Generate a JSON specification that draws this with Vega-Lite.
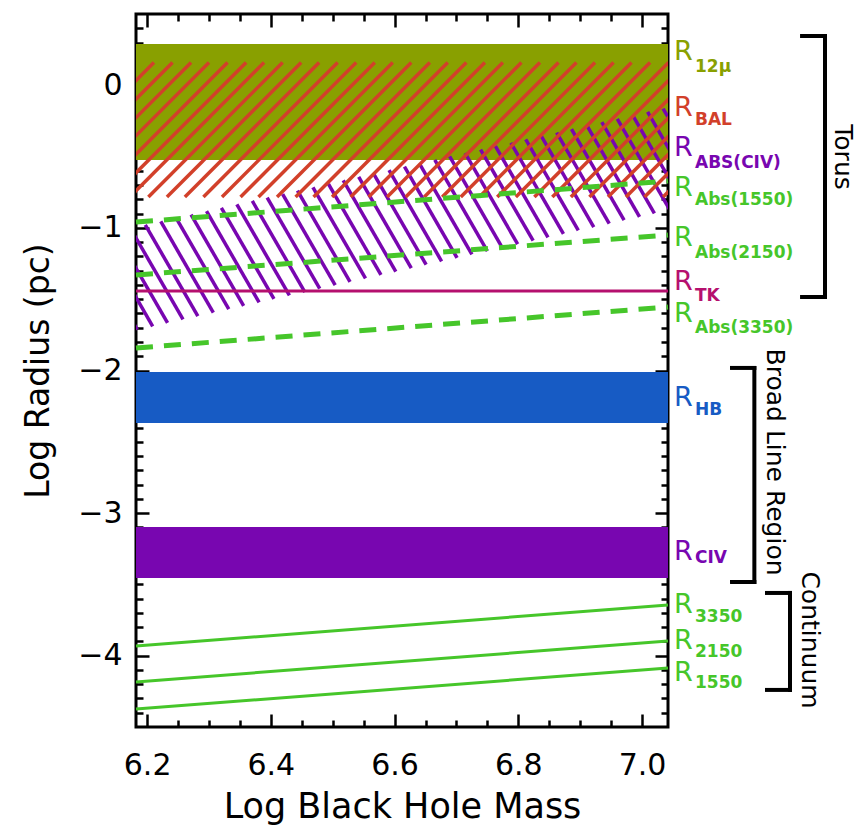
{
  "$schema": "https://vega.github.io/schema/vega-lite/v6.json",
  "width": 532,
  "height": 713,
  "autosize": "none",
  "padding": {"left": 136, "top": 14, "right": 191, "bottom": 105},
  "background": "white",
  "config": {
    "view": {"stroke": "black", "strokeWidth": 3},
    "axis": {"domain": false, "grid": false, "tickColor": "black", "tickWidth": 2.5, "labelFont": "DejaVu Sans", "labelFontSize": 30, "labelColor": "black", "titleFont": "DejaVu Sans", "titleFontSize": 33, "titleFontWeight": "normal", "titleColor": "black"}
  },
  "datasets": {
    "bands": [
      {"s": "12μ", "lo": -0.524, "hi": 0.29},
      {"s": "HB", "lo": -2.368, "hi": -2.011},
      {"s": "CIV", "lo": -3.455, "hi": -3.097}
    ],
    "hatch": [
      {"s": "BAL", "x": 5.994, "y": -0.783, "x2": 6.211, "y2": 0.16},
      {"s": "BAL", "x": 6.024, "y": -0.783, "x2": 6.241, "y2": 0.16},
      {"s": "BAL", "x": 6.054, "y": -0.783, "x2": 6.271, "y2": 0.16},
      {"s": "BAL", "x": 6.083, "y": -0.783, "x2": 6.300, "y2": 0.16},
      {"s": "BAL", "x": 6.113, "y": -0.783, "x2": 6.330, "y2": 0.16},
      {"s": "BAL", "x": 6.143, "y": -0.783, "x2": 6.360, "y2": 0.16},
      {"s": "BAL", "x": 6.172, "y": -0.783, "x2": 6.389, "y2": 0.16},
      {"s": "BAL", "x": 6.202, "y": -0.783, "x2": 6.419, "y2": 0.16},
      {"s": "BAL", "x": 6.232, "y": -0.783, "x2": 6.449, "y2": 0.16},
      {"s": "BAL", "x": 6.261, "y": -0.783, "x2": 6.478, "y2": 0.16},
      {"s": "BAL", "x": 6.291, "y": -0.783, "x2": 6.508, "y2": 0.16},
      {"s": "BAL", "x": 6.321, "y": -0.783, "x2": 6.538, "y2": 0.16},
      {"s": "BAL", "x": 6.351, "y": -0.783, "x2": 6.568, "y2": 0.16},
      {"s": "BAL", "x": 6.380, "y": -0.783, "x2": 6.597, "y2": 0.16},
      {"s": "BAL", "x": 6.410, "y": -0.783, "x2": 6.627, "y2": 0.16},
      {"s": "BAL", "x": 6.440, "y": -0.783, "x2": 6.657, "y2": 0.16},
      {"s": "BAL", "x": 6.469, "y": -0.783, "x2": 6.686, "y2": 0.16},
      {"s": "BAL", "x": 6.499, "y": -0.783, "x2": 6.716, "y2": 0.16},
      {"s": "BAL", "x": 6.529, "y": -0.783, "x2": 6.746, "y2": 0.16},
      {"s": "BAL", "x": 6.558, "y": -0.783, "x2": 6.775, "y2": 0.16},
      {"s": "BAL", "x": 6.588, "y": -0.783, "x2": 6.805, "y2": 0.16},
      {"s": "BAL", "x": 6.618, "y": -0.783, "x2": 6.835, "y2": 0.16},
      {"s": "BAL", "x": 6.648, "y": -0.783, "x2": 6.865, "y2": 0.16},
      {"s": "BAL", "x": 6.677, "y": -0.783, "x2": 6.894, "y2": 0.16},
      {"s": "BAL", "x": 6.707, "y": -0.783, "x2": 6.924, "y2": 0.16},
      {"s": "BAL", "x": 6.737, "y": -0.783, "x2": 6.954, "y2": 0.16},
      {"s": "BAL", "x": 6.766, "y": -0.783, "x2": 6.983, "y2": 0.16},
      {"s": "BAL", "x": 6.796, "y": -0.783, "x2": 7.013, "y2": 0.16},
      {"s": "BAL", "x": 6.826, "y": -0.783, "x2": 7.043, "y2": 0.16},
      {"s": "BAL", "x": 6.855, "y": -0.783, "x2": 7.072, "y2": 0.16},
      {"s": "BAL", "x": 6.885, "y": -0.783, "x2": 7.102, "y2": 0.16},
      {"s": "BAL", "x": 6.915, "y": -0.783, "x2": 7.132, "y2": 0.16},
      {"s": "BAL", "x": 6.945, "y": -0.783, "x2": 7.162, "y2": 0.16},
      {"s": "BAL", "x": 6.974, "y": -0.783, "x2": 7.191, "y2": 0.16},
      {"s": "BAL", "x": 7.004, "y": -0.783, "x2": 7.221, "y2": 0.16},
      {"s": "BAL", "x": 7.034, "y": -0.783, "x2": 7.251, "y2": 0.16},
      {"s": "ABS(CIV)", "x": 6.099, "y": -1.075, "x2": 6.184, "y2": -1.714},
      {"s": "ABS(CIV)", "x": 6.124, "y": -1.051, "x2": 6.209, "y2": -1.690},
      {"s": "ABS(CIV)", "x": 6.148, "y": -1.027, "x2": 6.233, "y2": -1.666},
      {"s": "ABS(CIV)", "x": 6.173, "y": -1.003, "x2": 6.258, "y2": -1.642},
      {"s": "ABS(CIV)", "x": 6.197, "y": -0.979, "x2": 6.282, "y2": -1.618},
      {"s": "ABS(CIV)", "x": 6.222, "y": -0.955, "x2": 6.307, "y2": -1.594},
      {"s": "ABS(CIV)", "x": 6.247, "y": -0.931, "x2": 6.332, "y2": -1.570},
      {"s": "ABS(CIV)", "x": 6.271, "y": -0.907, "x2": 6.356, "y2": -1.546},
      {"s": "ABS(CIV)", "x": 6.296, "y": -0.883, "x2": 6.381, "y2": -1.522},
      {"s": "ABS(CIV)", "x": 6.320, "y": -0.859, "x2": 6.405, "y2": -1.498},
      {"s": "ABS(CIV)", "x": 6.345, "y": -0.835, "x2": 6.430, "y2": -1.474},
      {"s": "ABS(CIV)", "x": 6.370, "y": -0.811, "x2": 6.455, "y2": -1.450},
      {"s": "ABS(CIV)", "x": 6.394, "y": -0.787, "x2": 6.479, "y2": -1.426},
      {"s": "ABS(CIV)", "x": 6.419, "y": -0.763, "x2": 6.504, "y2": -1.402},
      {"s": "ABS(CIV)", "x": 6.443, "y": -0.739, "x2": 6.528, "y2": -1.378},
      {"s": "ABS(CIV)", "x": 6.468, "y": -0.715, "x2": 6.553, "y2": -1.354},
      {"s": "ABS(CIV)", "x": 6.493, "y": -0.691, "x2": 6.578, "y2": -1.330},
      {"s": "ABS(CIV)", "x": 6.517, "y": -0.667, "x2": 6.602, "y2": -1.306},
      {"s": "ABS(CIV)", "x": 6.542, "y": -0.643, "x2": 6.627, "y2": -1.282},
      {"s": "ABS(CIV)", "x": 6.566, "y": -0.619, "x2": 6.651, "y2": -1.258},
      {"s": "ABS(CIV)", "x": 6.591, "y": -0.595, "x2": 6.676, "y2": -1.234},
      {"s": "ABS(CIV)", "x": 6.616, "y": -0.571, "x2": 6.701, "y2": -1.210},
      {"s": "ABS(CIV)", "x": 6.640, "y": -0.547, "x2": 6.725, "y2": -1.186},
      {"s": "ABS(CIV)", "x": 6.665, "y": -0.523, "x2": 6.750, "y2": -1.162},
      {"s": "ABS(CIV)", "x": 6.689, "y": -0.499, "x2": 6.774, "y2": -1.138},
      {"s": "ABS(CIV)", "x": 6.714, "y": -0.475, "x2": 6.799, "y2": -1.114},
      {"s": "ABS(CIV)", "x": 6.739, "y": -0.451, "x2": 6.824, "y2": -1.090},
      {"s": "ABS(CIV)", "x": 6.763, "y": -0.427, "x2": 6.848, "y2": -1.066},
      {"s": "ABS(CIV)", "x": 6.788, "y": -0.403, "x2": 6.873, "y2": -1.042},
      {"s": "ABS(CIV)", "x": 6.812, "y": -0.379, "x2": 6.897, "y2": -1.018},
      {"s": "ABS(CIV)", "x": 6.837, "y": -0.355, "x2": 6.922, "y2": -0.994},
      {"s": "ABS(CIV)", "x": 6.862, "y": -0.331, "x2": 6.947, "y2": -0.970},
      {"s": "ABS(CIV)", "x": 6.886, "y": -0.307, "x2": 6.971, "y2": -0.946},
      {"s": "ABS(CIV)", "x": 6.911, "y": -0.283, "x2": 6.996, "y2": -0.922},
      {"s": "ABS(CIV)", "x": 6.935, "y": -0.259, "x2": 7.020, "y2": -0.898},
      {"s": "ABS(CIV)", "x": 6.960, "y": -0.235, "x2": 7.045, "y2": -0.874},
      {"s": "ABS(CIV)", "x": 6.985, "y": -0.211, "x2": 7.070, "y2": -0.850},
      {"s": "ABS(CIV)", "x": 7.009, "y": -0.187, "x2": 7.094, "y2": -0.826},
      {"s": "ABS(CIV)", "x": 7.034, "y": -0.163, "x2": 7.119, "y2": -0.802}
    ],
    "lines": [
      {"s": "Abs(1550)", "k": "dash", "x": 6.182, "y": -0.959}, {"s": "Abs(1550)", "k": "dash", "x": 7.042, "y": -0.671},
      {"s": "Abs(2150)", "k": "dash", "x": 6.182, "y": -1.330}, {"s": "Abs(2150)", "k": "dash", "x": 7.042, "y": -1.050},
      {"s": "Abs(3350)", "k": "dash", "x": 6.182, "y": -1.842}, {"s": "Abs(3350)", "k": "dash", "x": 7.042, "y": -1.555},
      {"s": "TK", "k": "solid", "x": 6.182, "y": -1.442}, {"s": "TK", "k": "solid", "x": 7.042, "y": -1.442},
      {"s": "3350", "k": "solid", "x": 6.182, "y": -3.932}, {"s": "3350", "k": "solid", "x": 7.042, "y": -3.644},
      {"s": "2150", "k": "solid", "x": 6.182, "y": -4.184}, {"s": "2150", "k": "solid", "x": 7.042, "y": -3.897},
      {"s": "1550", "k": "solid", "x": 6.182, "y": -4.374}, {"s": "1550", "k": "solid", "x": 7.042, "y": -4.086}
    ],
    "labels": [
      {"s": "12μ", "ry": 0.2335, "sy": 0.128},
      {"s": "BAL", "ry": -0.159, "sy": -0.243},
      {"s": "ABS(CIV)", "ry": -0.44, "sy": -0.545},
      {"s": "Abs(1550)", "ry": -0.72, "sy": -0.804},
      {"s": "Abs(2150)", "ry": -1.071, "sy": -1.176},
      {"s": "TK", "ry": -1.38, "sy": -1.48},
      {"s": "Abs(3350)", "ry": -1.605, "sy": -1.705},
      {"s": "HB", "ry": -2.193, "sy": -2.277},
      {"s": "CIV", "ry": -3.273, "sy": -3.315},
      {"s": "3350", "ry": -3.644, "sy": -3.729},
      {"s": "2150", "ry": -3.9, "sy": -3.975},
      {"s": "1550", "ry": -4.12, "sy": -4.19}
    ],
    "brackets": [
      {"x": 7.2587, "y": 0.3457, "x2": 7.2958, "y2": 0.3457},
      {"x": 7.2958, "y": 0.3457, "x2": 7.2958, "y2": -1.4846},
      {"x": 7.2587, "y": -1.4846, "x2": 7.2958, "y2": -1.4846},
      {"x": 7.1455, "y": -1.982, "x2": 7.1816, "y2": -1.982},
      {"x": 7.1816, "y": -1.982, "x2": 7.1816, "y2": -3.483},
      {"x": 7.1455, "y": -3.483, "x2": 7.1816, "y2": -3.483},
      {"x": 7.202, "y": -3.56, "x2": 7.2392, "y2": -3.56},
      {"x": 7.2392, "y": -3.56, "x2": 7.2392, "y2": -4.24},
      {"x": 7.202, "y": -4.24, "x2": 7.2392, "y2": -4.24}
    ],
    "groups": [
      {"t": "Torus", "x": 7.325, "y": -0.503},
      {"t": "Broad Line Region", "x": 7.2143, "y": -2.642},
      {"t": "Continuum", "x": 7.2716, "y": -3.89}
    ]
  },
  "resolve": {"axis": {"x": "independent", "y": "independent"}},
  "layer": [
    {
      "data": {"name": "bands"},
      "mark": {"type": "rect"},
      "encoding": {
        "x": {"datum": 6.182, "type": "quantitative", "scale": {"domain": [6.182, 7.042], "nice": false, "zero": false}, "axis": null},
        "x2": {"datum": 7.042},
        "y": {"field": "lo", "type": "quantitative", "scale": {"domain": [-4.5, 0.5], "nice": false, "zero": false},
              "axis": {"orient": "left", "values": [-4, -3, -2, -1, 0], "format": "d", "tickSize": -13, "labelPadding": 27, "title": "Log Radius (pc)", "titlePadding": 22}},
        "y2": {"field": "hi"},
        "color": {"field": "s", "type": "nominal", "legend": null,
                  "scale": {"domain": ["12μ", "BAL", "ABS(CIV)", "Abs(1550)", "Abs(2150)", "TK", "Abs(3350)", "HB", "CIV", "3350", "2150", "1550"],
                            "range": ["#89a000", "#d2402a", "#7806b0", "#46c62a", "#46c62a", "#b5106e", "#46c62a", "#175bc4", "#7806b0", "#46c62a", "#46c62a", "#46c62a"]}}
      }
    },
    {
      "data": {"name": "hatch"},
      "transform": [{"filter": "datum.s === 'ABS(CIV)'"}],
      "mark": {"type": "rule", "clip": true, "strokeWidth": 3.5},
      "encoding": {
        "x": {"field": "x", "type": "quantitative", "scale": {"domain": [6.182, 7.042], "nice": false, "zero": false},
              "axis": {"orient": "bottom", "values": [6.2, 6.4, 6.6, 6.8, 7.0], "format": ".1f", "tickSize": -13, "labelPadding": 36, "title": "Log Black Hole Mass", "titleFontSize": 35, "titlePadding": 9}},
        "x2": {"field": "x2"},
        "y": {"field": "y", "type": "quantitative", "scale": {"domain": [-4.5, 0.5], "nice": false, "zero": false},
              "axis": {"orient": "left", "values": [-4.4, -4.3, -4.2, -4.1, -3.9, -3.8, -3.7, -3.6, -3.5, -3.4, -3.3, -3.2, -3.1, -2.9, -2.8, -2.7, -2.6, -2.5, -2.4, -2.3, -2.2, -2.1, -1.9, -1.8, -1.7, -1.6, -1.5, -1.4, -1.3, -1.2, -1.1, -0.9, -0.8, -0.7, -0.6, -0.5, -0.4, -0.3, -0.2, -0.1, 0.1, 0.2, 0.3, 0.4], "labels": false, "tickSize": -7, "title": null}},
        "y2": {"field": "y2"},
        "color": {"field": "s", "type": "nominal", "legend": null}
      }
    },
    {
      "data": {"name": "hatch"},
      "transform": [{"filter": "datum.s === 'BAL'"}],
      "mark": {"type": "rule", "clip": true, "strokeWidth": 3.5},
      "encoding": {
        "x": {"field": "x", "type": "quantitative", "scale": {"domain": [6.182, 7.042], "nice": false, "zero": false},
              "axis": {"orient": "bottom", "values": [6.25, 6.3, 6.35, 6.45, 6.5, 6.55, 6.65, 6.7, 6.75, 6.85, 6.9, 6.95], "labels": false, "tickSize": -7, "title": null}},
        "x2": {"field": "x2"},
        "y": {"field": "y", "type": "quantitative", "scale": {"domain": [-4.5, 0.5], "nice": false, "zero": false},
              "axis": {"orient": "right", "values": [-4, -3, -2, -1, 0], "labels": false, "tickSize": -13, "title": null}},
        "y2": {"field": "y2"},
        "color": {"field": "s", "type": "nominal", "legend": null}
      }
    },
    {
      "data": {"name": "lines"},
      "transform": [{"filter": "datum.k === 'dash'"}],
      "mark": {"type": "line", "strokeWidth": 5, "strokeDash": [17, 11]},
      "encoding": {
        "x": {"field": "x", "type": "quantitative", "scale": {"domain": [6.182, 7.042], "nice": false, "zero": false},
              "axis": {"orient": "top", "values": [6.2, 6.4, 6.6, 6.8, 7.0], "labels": false, "tickSize": -13, "title": null}},
        "y": {"field": "y", "type": "quantitative", "scale": {"domain": [-4.5, 0.5], "nice": false, "zero": false},
              "axis": {"orient": "right", "values": [-4.4, -4.3, -4.2, -4.1, -3.9, -3.8, -3.7, -3.6, -3.5, -3.4, -3.3, -3.2, -3.1, -2.9, -2.8, -2.7, -2.6, -2.5, -2.4, -2.3, -2.2, -2.1, -1.9, -1.8, -1.7, -1.6, -1.5, -1.4, -1.3, -1.2, -1.1, -0.9, -0.8, -0.7, -0.6, -0.5, -0.4, -0.3, -0.2, -0.1, 0.1, 0.2, 0.3, 0.4], "labels": false, "tickSize": -7, "title": null}},
        "color": {"field": "s", "type": "nominal", "legend": null}
      }
    },
    {
      "data": {"name": "lines"},
      "transform": [{"filter": "datum.k === 'solid'"}],
      "mark": {"type": "line", "strokeWidth": 3},
      "encoding": {
        "x": {"field": "x", "type": "quantitative", "scale": {"domain": [6.182, 7.042], "nice": false, "zero": false},
              "axis": {"orient": "top", "values": [6.25, 6.3, 6.35, 6.45, 6.5, 6.55, 6.65, 6.7, 6.75, 6.85, 6.9, 6.95], "labels": false, "tickSize": -7, "title": null}},
        "y": {"field": "y", "type": "quantitative", "scale": {"domain": [-4.5, 0.5], "nice": false, "zero": false}, "axis": null},
        "color": {"field": "s", "type": "nominal", "legend": null}
      }
    },
    {
      "data": {"name": "labels"},
      "mark": {"type": "text", "align": "left", "baseline": "middle", "dx": 6, "fontSize": 27, "font": "DejaVu Sans", "text": "R"},
      "encoding": {
        "x": {"datum": 7.042, "type": "quantitative", "scale": {"domain": [6.182, 7.042], "nice": false, "zero": false}, "axis": null},
        "y": {"field": "ry", "type": "quantitative", "scale": {"domain": [-4.5, 0.5], "nice": false, "zero": false}, "axis": null},
        "color": {"field": "s", "type": "nominal", "legend": null}
      }
    },
    {
      "data": {"name": "labels"},
      "mark": {"type": "text", "align": "left", "baseline": "middle", "dx": 27, "fontSize": 17, "fontWeight": "bold", "font": "DejaVu Sans"},
      "encoding": {
        "x": {"datum": 7.042, "type": "quantitative", "scale": {"domain": [6.182, 7.042], "nice": false, "zero": false}, "axis": null},
        "y": {"field": "sy", "type": "quantitative", "scale": {"domain": [-4.5, 0.5], "nice": false, "zero": false}, "axis": null},
        "text": {"field": "s"},
        "color": {"field": "s", "type": "nominal", "legend": null}
      }
    },
    {
      "data": {"name": "brackets"},
      "mark": {"type": "rule", "strokeWidth": 4, "color": "black", "strokeCap": "square"},
      "encoding": {
        "x": {"field": "x", "type": "quantitative", "scale": {"domain": [6.182, 7.042], "nice": false, "zero": false}, "axis": null},
        "x2": {"field": "x2"},
        "y": {"field": "y", "type": "quantitative", "scale": {"domain": [-4.5, 0.5], "nice": false, "zero": false}, "axis": null},
        "y2": {"field": "y2"}
      }
    },
    {
      "data": {"name": "groups"},
      "mark": {"type": "text", "angle": 90, "align": "center", "baseline": "middle", "fontSize": 25, "font": "DejaVu Sans", "color": "black"},
      "encoding": {
        "x": {"field": "x", "type": "quantitative", "scale": {"domain": [6.182, 7.042], "nice": false, "zero": false}, "axis": null},
        "y": {"field": "y", "type": "quantitative", "scale": {"domain": [-4.5, 0.5], "nice": false, "zero": false}, "axis": null},
        "text": {"field": "t"}
      }
    }
  ]
}
